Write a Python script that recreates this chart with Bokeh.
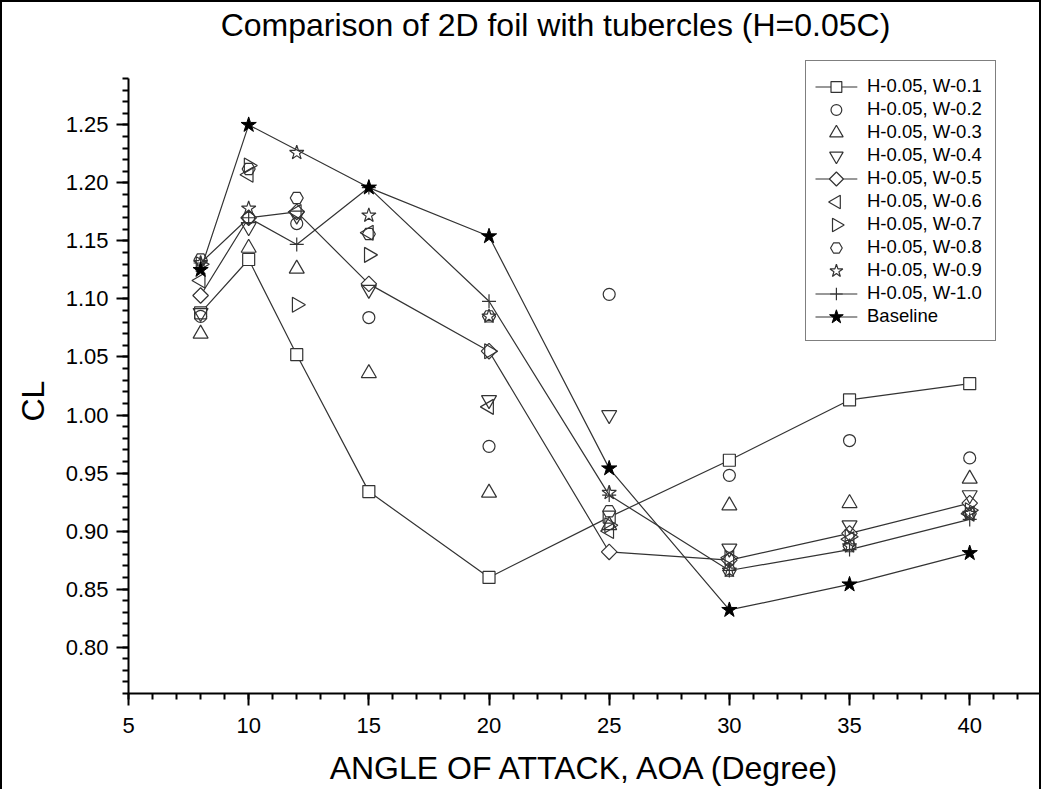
import math
from bokeh.plotting import figure
from bokeh.models import FixedTicker, Legend, LegendItem, Range1d, Title, Label
from bokeh.embed import file_html
from bokeh.resources import INLINE

# ---------------- data ----------------
aoa = [8, 10, 12, 15, 20, 25, 30, 35, 40]
aoa_base = [8, 10, 15, 20, 25, 30, 35, 40]

cl_w01 = [1.088, 1.134, 1.052, 0.934, 0.860, 0.912, 0.961, 1.013, 1.027]
cl_w02 = [1.085, 1.170, 1.165, 1.084, 0.973, 1.104, 0.948, 0.978, 0.963]
cl_w03 = [1.070, 1.144, 1.126, 1.036, 0.933, 0.905, 0.922, 0.924, 0.945]
cl_w04 = [1.088, 1.162, 1.172, 1.108, 1.013, 1.000, 0.885, 0.905, 0.931]
cl_w05 = [1.103, 1.170, 1.175, 1.113, 1.055, 0.882, 0.875, 0.898, 0.924]
cl_w06 = [1.116, 1.207, 1.175, 1.157, 1.007, 0.900, 0.877, 0.893, 0.915]
cl_w07 = [1.130, 1.215, 1.095, 1.138, 1.055, 0.905, 0.877, 0.895, 0.918]
cl_w08 = [1.134, 1.212, 1.187, 1.156, 1.085, 0.917, 0.866, 0.887, 0.915]
cl_w09 = [1.131, 1.178, 1.226, 1.172, 1.085, 0.933, 0.866, 0.887, 0.915]
cl_w10 = [1.131, 1.170, 1.147, 1.196, 1.098, 0.931, 0.866, 0.884, 0.910]
cl_base = [1.125, 1.250, 1.196, 1.154, 0.954, 0.832, 0.854, 0.881]

labels = ["H-0.05, W-0.1", "H-0.05, W-0.2", "H-0.05, W-0.3", "H-0.05, W-0.4",
          "H-0.05, W-0.5", "H-0.05, W-0.6", "H-0.05, W-0.7", "H-0.05, W-0.8",
          "H-0.05, W-0.9", "H-0.05, W-1.0", "Baseline"]

x_ticks = [5, 10, 15, 20, 25, 30, 35, 40]
y_ticks = [0.80, 0.85, 0.90, 0.95, 1.00, 1.05, 1.10, 1.15, 1.20, 1.25]
y_tick_labels = ["0.80", "0.85", "0.90", "0.95", "1.00", "1.05", "1.10", "1.15", "1.20", "1.25"]

title = "Comparison of 2D foil with tubercles (H=0.05C)"
x_title = "ANGLE OF ATTACK, AOA (Degree)"
y_title = "CL"

# ---------------- figure ----------------
FONT = "Liberation Sans"
INK = "#333333"
X0, X1 = 5, 43.07
Y0, Y1 = 0.76, 1.3555
FRAME_W = 919    # frame size in px
FRAME_H = 691    # (frame spans the canvas from its top)

p = figure(width=1041, height=789,
           x_range=Range1d(X0, X1), y_range=Range1d(Y0, Y1),
           output_backend="svg", toolbar_location=None,
           min_border_left=122, min_border_right=0,
           min_border_top=0, min_border_bottom=98)
p.styles = {"border-left": "2px solid black", "border-top": "2px solid black",
            "border-right": "2px solid black"}

p.xgrid.visible = False
p.ygrid.visible = False
p.outline_line_color = None
p.background_fill_color = "white"
p.border_fill_color = "white"

x_minor = [v for v in range(5, 44)]
y_minor = [round(0.76 + 0.01 * i, 2) for i in range(0, 54)]
p.xaxis.ticker = FixedTicker(ticks=x_ticks, minor_ticks=x_minor)
p.yaxis.ticker = FixedTicker(ticks=y_ticks, minor_ticks=y_minor)
p.yaxis.major_label_overrides = {t: l for t, l in zip(y_ticks, y_tick_labels)}
p.yaxis.bounds = (0.76, 1.29)

for ax in (p.xaxis[0], p.yaxis[0]):
    ax.axis_line_width = 2
    ax.axis_line_color = "black"
    ax.major_tick_line_width = 2
    ax.minor_tick_line_width = 2
    ax.major_tick_line_color = "black"
    ax.minor_tick_line_color = "black"
    ax.major_tick_out = 12
    ax.major_tick_in = 0
    ax.minor_tick_out = 6
    ax.minor_tick_in = 0
    ax.major_label_text_font = FONT
    ax.major_label_text_font_size = "22px"
    ax.major_label_text_color = "black"
    ax.axis_label_text_font = FONT
    ax.axis_label_text_font_size = "32px"
    ax.axis_label_text_font_style = "normal"
    ax.axis_label_text_color = "black"

p.xaxis.major_label_standoff = 12
p.yaxis.major_label_standoff = 8
p.xaxis.axis_label = x_title
p.xaxis.axis_label_standoff = 14

ytitle = Title(text=y_title, align="left", offset=272, vertical_align="middle",
               text_font=FONT, text_font_size="32px", text_font_style="normal",
               text_color="black", standoff=22)
p.add_layout(ytitle, "left")

# chart title, drawn inside the (tall) frame above the y axis
p.add_layout(Label(x=427, y=FRAME_H - 22, x_units="screen", y_units="screen",
                   text=title, text_font=FONT, text_font_size="32px",
                   text_color="black", text_align="center", text_baseline="middle",
                   level="overlay"))

# ---------------- glyphs ----------------
lw = 1.2

l01 = p.line(aoa, cl_w01, line_color=INK, line_width=lw)
l05 = p.line(aoa, cl_w05, line_color=INK, line_width=lw)
l10 = p.line(aoa, cl_w10, line_color=INK, line_width=lw)
lb = p.line(aoa_base, cl_base, line_color=INK, line_width=lw)

# marker style per series: (marker, size, angle, fill)
styles = [
    ("square", 12, 0.0, "white"),
    ("circle", 12, 0.0, None),
    ("triangle", 15, 0.0, None),
    ("inverted_triangle", 15, 0.0, None),
    ("square", 11, math.pi / 4, "white"),
    ("triangle", 15, math.pi / 2, None),
    ("triangle", 15, -math.pi / 2, None),
    ("hex", 13, 0.0, None),
    ("star", 15, 0.0, None),
    ("cross", 14, 0.0, None),
    ("star", 16, 0.0, "black"),
]
has_line = [True, False, False, False, True, False, False, False, False, True, True]

def mk(x, y, st, scale=1.0):
    marker, size, angle, fill = st
    kw = dict(marker=marker, size=size * scale, angle=angle, line_color=INK, line_width=lw)
    if fill is None:
        kw.update(fill_alpha=0)
    else:
        kw.update(fill_color=fill)
    if fill == "black":
        kw.update(line_color="black", line_width=1)
    return p.scatter(x, y, **kw)

series = [cl_w01, cl_w02, cl_w03, cl_w04, cl_w05, cl_w06, cl_w07, cl_w08, cl_w09, cl_w10]
order = [0, 4, 1, 2, 3, 5, 6, 7, 8, 9]      # filled (line) series first
for k in order:
    mk(aoa, series[k], styles[k])
mk(aoa_base, cl_base, styles[10])

# ---------------- legend ----------------
# text and frame come from Bokeh's Legend (transparent box); the keys are drawn
# underneath it through the scales so that rotated symbols can be shown
ghost = p.scatter(x=[], y=[], marker="circle", line_alpha=0, fill_alpha=0)
items = [LegendItem(label=lab, renderers=[ghost]) for lab in labels]

LEG_PAD = 13
ROW_H = 23
GLYPH_W = 42
LEG_X = 677          # from frame left
LEG_TOP = 60         # from frame top
leg_h = 2 * LEG_PAD + len(items) * ROW_H
legend = Legend(items=items, location=(LEG_X, FRAME_H - LEG_TOP - leg_h))
legend.label_text_font = FONT
legend.label_text_font_size = "18.5px"
legend.label_text_color = "black"
legend.glyph_width = GLYPH_W
legend.glyph_height = ROW_H
legend.label_height = ROW_H
legend.spacing = 0
legend.padding = LEG_PAD
legend.margin = 0
legend.label_standoff = 6
legend.border_line_color = "black"
legend.border_line_width = 1
legend.background_fill_alpha = 0
p.add_layout(legend)

def px_to_x(px):
    return X0 + px / FRAME_W * (X1 - X0)

def px_to_y(py):
    return Y0 + py / FRAME_H * (Y1 - Y0)

key_l = px_to_x(LEG_X + LEG_PAD)
key_r = px_to_x(LEG_X + LEG_PAD + GLYPH_W)
key_x = px_to_x(LEG_X + LEG_PAD + GLYPH_W / 2)
for i, st in enumerate(styles):
    key_y = px_to_y(FRAME_H - LEG_TOP - LEG_PAD - i * ROW_H - ROW_H / 2)
    if has_line[i]:
        p.segment(x0=[key_l], y0=[key_y], x1=[key_r], y1=[key_y],
                  line_color=INK, line_width=lw)
    mk([key_x], [key_y], st, scale=0.9)

open("out.html", "w").write(file_html(p, INLINE))
